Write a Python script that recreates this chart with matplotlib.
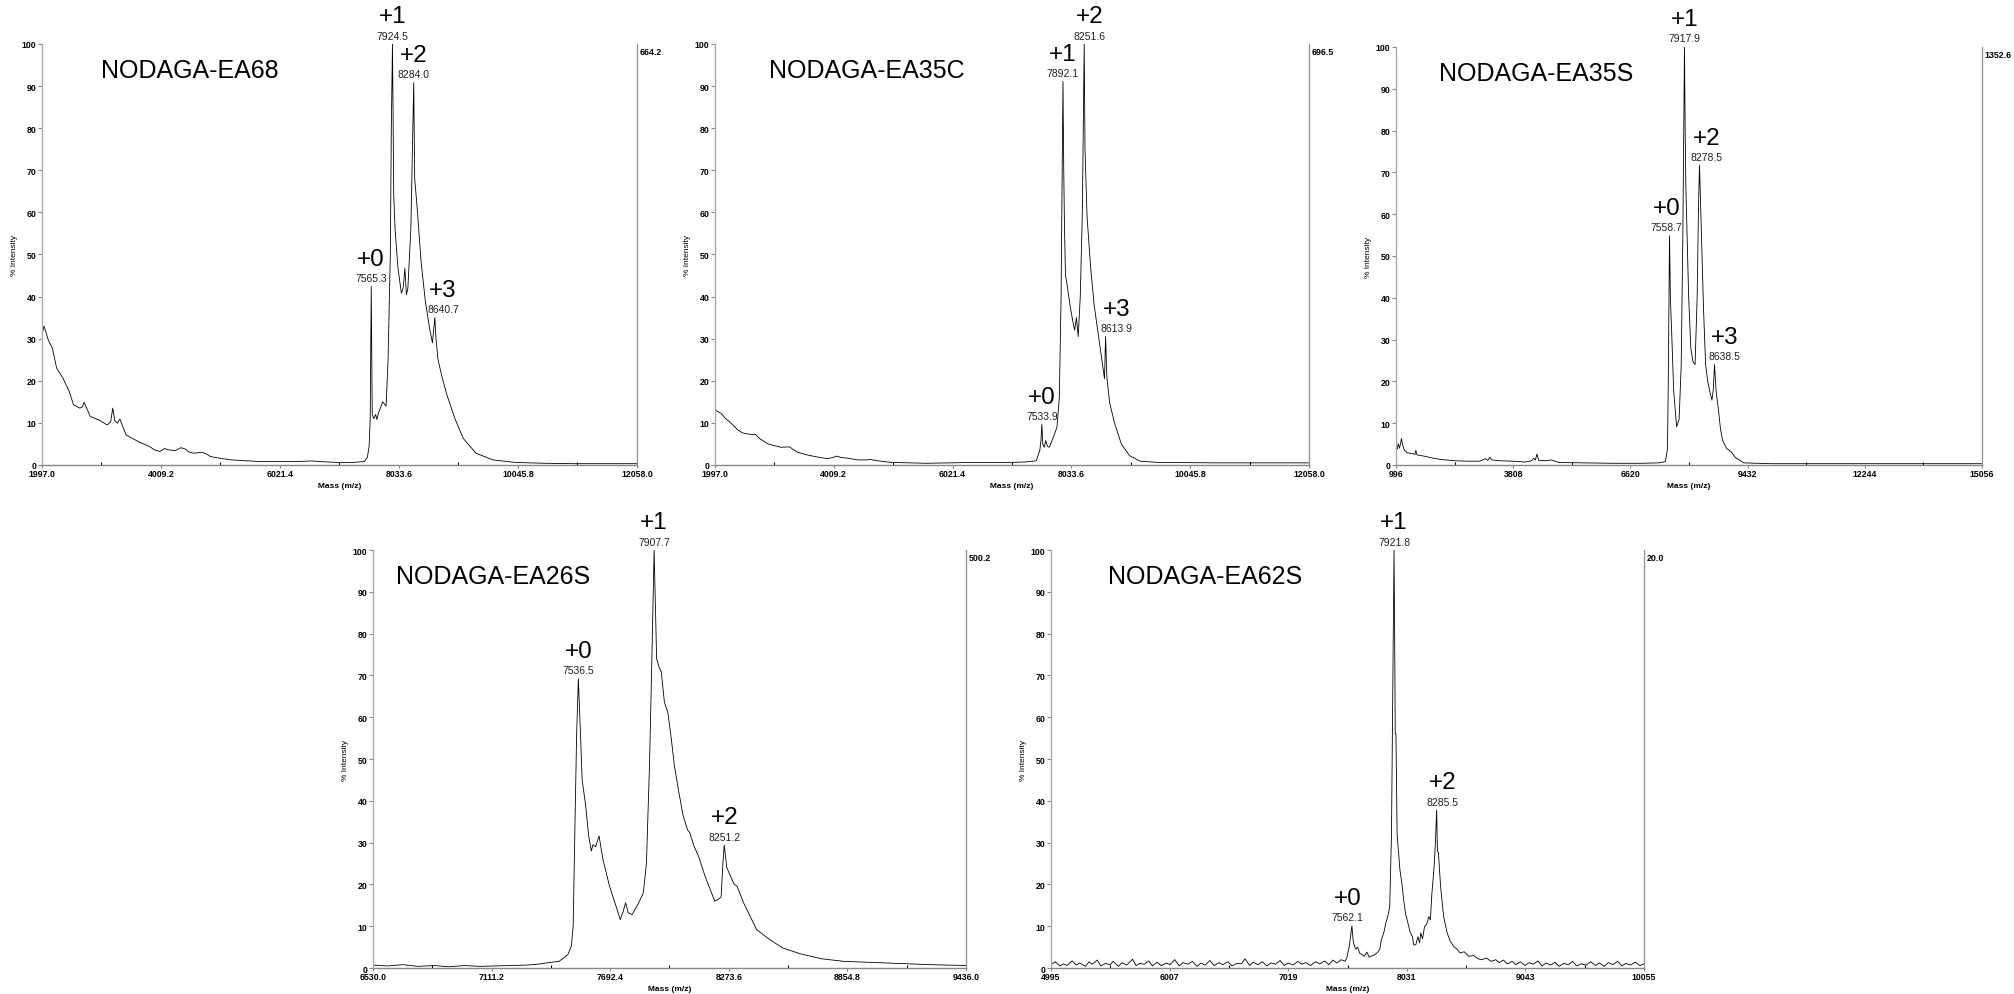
import matplotlib
matplotlib.use("Agg")
import matplotlib.pyplot as plt
import numpy as np

plt.rcParams['font.family'] = ['Liberation Sans', 'DejaVu Sans']

# ---- spectra, (mass, % intensity) ----
ea68 = [(1997, 31), (2033, 33), (2104, 29.7), (2175, 27.7), (2246, 23), (2353, 20.6),
        (2460, 17.4), (2531, 14.3), (2638, 13.5), (2680, 13.8), (2710, 14.9), (2816, 11.5),
        (2959, 10.7), (3101, 9.5), (3160, 10.2), (3194, 13.5), (3230, 10.5), (3275, 9.9),
        (3315, 10.9), (3422, 7.1), (3636, 5.5), (3814, 4.4), (3900, 3.6), (3992, 3.2),
        (4070, 3.9), (4134, 3.6), (4250, 3.4), (4348, 4.1), (4419, 3.8), (4480, 3.1),
        (4562, 2.8), (4704, 3.0), (4780, 2.6), (4847, 2.0), (5000, 1.6), (5203, 1.2),
        (5450, 1.0), (5702, 0.8), (6000, 0.8), (6272, 0.8), (6557, 0.95), (6700, 0.8),
        (6985, 0.6), (7250, 0.6), (7448, 0.8), (7500, 1.8), (7530, 4.5), (7548, 11),
        (7565.3, 42.4), (7582, 12), (7610, 11), (7640, 12), (7660, 10.8), (7690, 12.5),
        (7720, 13.5), (7760, 15), (7817, 14), (7850, 25), (7888, 50), (7905, 80),
        (7924.5, 100), (7946, 64), (7968, 56), (8018, 46.7), (8075, 40.8), (8105, 42),
        (8135, 46.7), (8160, 40.4), (8185, 42), (8235, 56), (8284.0, 90.8), (8300, 68),
        (8338, 61.8), (8410, 48), (8481, 38.8), (8552, 32.5), (8600, 29), (8640.7, 35),
        (8660, 30), (8695, 25), (8760, 21), (8837, 17), (8980, 11), (9122, 6.3),
        (9336, 2.8), (9621, 1.2), (10000, 0.6), (10500, 0.4), (11000, 0.3), (11500, 0.3),
        (12058, 0.3)]

ea35c = [(1997, 13.4), (2030, 12.8), (2105, 12.2), (2180, 11), (2249, 10.2), (2320, 9.2),
         (2394, 8.2), (2470, 7.6), (2538, 7.4), (2640, 7.2), (2682, 7.3), (2760, 6.2),
         (2898, 5.0), (3000, 4.6), (3115, 4.2), (3259, 4.3), (3330, 3.6), (3403, 3.0),
         (3550, 2.4), (3692, 2.0), (3800, 1.7), (3908, 1.5), (4000, 1.8), (4060, 2.1),
         (4124, 1.8), (4250, 1.6), (4413, 1.2), (4560, 1.2), (4629, 1.3), (4800, 0.9),
         (4990, 0.6), (5300, 0.5), (5567, 0.4), (6000, 0.5), (6288, 0.6), (6700, 0.6),
         (7009, 0.6), (7250, 0.7), (7440, 1.0), (7500, 3.5), (7520, 6), (7533.9, 9.6),
         (7550, 5), (7575, 4.2), (7600, 5.8), (7630, 4.4), (7660, 4.2), (7700, 5.6),
         (7740, 7), (7790, 9), (7830, 16), (7860, 40), (7892.1, 91.1), (7905, 70),
         (7918, 56), (7935, 45), (7960, 43), (8010, 38), (8060, 34), (8090, 32),
         (8120, 35), (8150, 30.5), (8185, 40), (8220, 60), (8251.6, 100), (8265, 75),
         (8300, 59), (8360, 47), (8420, 38), (8480, 32), (8530, 27), (8570, 23),
         (8595, 20.5), (8613.9, 30.5), (8635, 21), (8680, 15), (8760, 10.2), (8880, 5),
         (9020, 2.2), (9200, 0.9), (9500, 0.6), (10500, 0.5), (11500, 0.5), (12058, 0.5)]

ea35s = [(996, 4.3), (1030, 3.8), (1047, 5.1), (1080, 4.0), (1128, 6.3), (1160, 4.6),
         (1200, 3.5), (1270, 2.9), (1400, 2.7), (1450, 2.5), (1473, 3.5), (1500, 2.4),
         (1677, 2.1), (1900, 1.6), (2083, 1.3), (2400, 1.0), (2700, 0.9), (3000, 0.9),
         (3150, 1.5), (3200, 1.1), (3250, 1.8), (3300, 1.2), (3500, 1.0), (3800, 0.9),
         (4100, 0.7), (4250, 1.0), (4298, 1.6), (4340, 1.2), (4379, 2.6), (4420, 1.1),
         (4600, 1.0), (4725, 1.2), (4900, 0.6), (5500, 0.5), (6200, 0.4), (6900, 0.4),
         (7300, 0.5), (7460, 0.8), (7510, 3.9), (7530, 20), (7558.7, 54.8), (7580, 40),
         (7610, 32), (7660, 17.5), (7730, 9.1), (7790, 11), (7840, 24), (7880, 56),
         (7917.9, 100), (7935, 80), (7950, 67), (8019, 40), (8070, 28), (8121, 24.7),
         (8172, 24), (8222, 40), (8255, 62), (8278.5, 71.7), (8323, 56), (8374, 37.6),
         (8425, 24), (8476, 20), (8527, 17.5), (8577, 15.5), (8610, 18), (8638.5, 24),
         (8679, 17.5), (8730, 13.5), (8781, 8.7), (8832, 5.9), (8934, 3.9), (9035, 3.2),
         (9137, 1.8), (9340, 0.5), (10000, 0.3), (12000, 0.3), (15056, 0.3)]

ea26s = [(6530, 0.7), (6600, 0.5), (6680, 0.8), (6750, 0.4), (6830, 0.6), (6900, 0.3),
         (6980, 0.6), (7050, 0.4), (7130, 0.5), (7200, 0.6), (7280, 0.7), (7336, 0.9),
         (7378, 1.2), (7442, 1.6), (7485, 3.2), (7502, 5.2), (7511, 10), (7519, 32),
         (7528, 56), (7536.5, 69.2), (7546, 57), (7555, 45), (7572, 39), (7587, 31.6),
         (7600, 28), (7608, 29.5), (7621, 29), (7638, 31.6), (7657, 26), (7689, 19.6),
         (7721, 14.8), (7742, 11.6), (7756, 13.5), (7768, 15.6), (7781, 13.2), (7800, 12.8),
         (7828, 15.2), (7855, 18), (7870, 25), (7885, 48.4), (7896, 72.4), (7907.7, 100),
         (7920, 74), (7932, 72), (7943, 70.8), (7958, 63.6), (7975, 61.2), (7992, 54.8),
         (8007, 48.4), (8029, 42), (8050, 36.4), (8072, 33), (8082, 32.4), (8103, 29.2),
         (8125, 26.8), (8157, 22), (8189, 18), (8205, 16), (8221, 16.4), (8236, 17),
         (8244, 24.4), (8251.2, 29.4), (8264, 24), (8282, 22), (8300, 20), (8314, 19.6),
         (8346, 15.6), (8378, 12.4), (8410, 9.2), (8474, 6.8), (8538, 4.8), (8624, 3.4),
         (8730, 2.2), (8837, 1.6), (9050, 1.2), (9263, 0.8), (9436, 0.6)]

ea62s = [(4995, 0.8), (5030, 1.5), (5070, 0.5), (5100, 1.0), (5130, 0.6), (5175, 1.7),
         (5210, 0.7), (5240, 1.2), (5290, 0.4), (5320, 1.5), (5345, 0.9), (5390, 1.9),
         (5420, 0.5), (5460, 1.1), (5500, 0.8), (5525, 1.6), (5570, 0.4), (5600, 1.3),
         (5640, 0.7), (5690, 2.1), (5720, 0.6), (5755, 1.1), (5790, 0.9), (5830, 1.7),
         (5860, 0.5), (5900, 1.4), (5935, 0.6), (5980, 1.2), (6010, 0.8), (6050, 2.0),
         (6090, 0.5), (6120, 1.3), (6165, 0.9), (6200, 1.6), (6240, 0.4), (6275, 1.2),
         (6310, 0.7), (6350, 1.8), (6385, 0.6), (6430, 1.3), (6460, 0.8), (6505, 1.5),
         (6540, 0.5), (6580, 1.1), (6620, 1.0), (6650, 2.2), (6690, 0.6), (6720, 1.4),
         (6760, 0.8), (6800, 1.5), (6835, 0.5), (6870, 1.2), (6910, 0.9), (6950, 1.8),
         (6985, 0.6), (7020, 1.2), (7060, 0.7), (7100, 1.6), (7135, 0.9), (7170, 1.3),
         (7210, 0.6), (7250, 1.5), (7290, 1.0), (7330, 1.7), (7365, 0.8), (7400, 1.9),
         (7435, 1.2), (7470, 2.0), (7505, 1.6), (7520, 2.6), (7540, 5.2), (7562.1, 10.1),
         (7575, 6), (7595, 4.5), (7611, 5), (7630, 3.5), (7650, 3.2), (7666, 2.8),
         (7690, 3.8), (7710, 2.6), (7722, 2.8), (7745, 3.0), (7777, 3.6), (7800, 4.5),
         (7814, 6.8), (7835, 8.5), (7851, 10.7), (7870, 12.5), (7885, 14.7), (7900, 32),
         (7921.8, 100), (7928, 76), (7932, 56), (7938, 56), (7948, 32), (7972, 23.5),
         (7990, 20), (8004, 16.3), (8020, 13), (8041, 10.7), (8060, 8.5), (8078, 7.6),
         (8090, 5.5), (8108, 5.6), (8125, 7.5), (8140, 6), (8150, 8.4), (8165, 7),
         (8182, 9.9), (8200, 10.5), (8219, 12.3), (8232, 11.5), (8245, 17.9), (8264, 24.3),
         (8275, 30), (8285.5, 37.8), (8292, 28), (8301, 27.5), (8319, 19.5), (8345, 12.3),
         (8375, 8.4), (8400, 6.5), (8430, 5.2), (8460, 4.5), (8486, 3.6), (8520, 3.9),
         (8560, 2.8), (8600, 3.0), (8640, 2.2), (8670, 2.0), (8710, 2.4), (8750, 1.6),
         (8790, 2.0), (8820, 1.3), (8855, 1.9), (8890, 1.0), (8930, 1.6), (8960, 0.8),
         (9000, 1.5), (9040, 0.6), (9075, 1.3), (9110, 0.9), (9150, 1.7), (9185, 0.5),
         (9220, 1.2), (9260, 0.7), (9295, 1.4), (9330, 0.4), (9370, 1.1), (9410, 0.8),
         (9445, 1.6), (9480, 0.5), (9520, 1.0), (9560, 0.7), (9600, 1.5), (9640, 0.6),
         (9675, 1.2), (9715, 0.4), (9750, 1.3), (9790, 0.8), (9830, 1.6), (9865, 0.5),
         (9900, 1.1), (9940, 0.7), (9980, 1.4), (10020, 0.6), (10055, 1.0)]

# ---- labelled peaks ----
ea68_peak_mass = [7565.3, 7924.5, 8284.0, 8640.7]
ea68_peak_int = [42.4, 100, 90.8, 35]
ea35c_peak_mass = [7533.9, 7892.1, 8251.6, 8613.9]
ea35c_peak_int = [9.6, 91.1, 100, 30.5]
ea35s_peak_mass = [7558.7, 7917.9, 8278.5, 8638.5]
ea35s_peak_int = [54.8, 100, 71.7, 24]
ea26s_peak_mass = [7536.5, 7907.7, 8251.2]
ea26s_peak_int = [69.2, 100, 29.4]
ea62s_peak_mass = [7562.1, 7921.8, 8285.5]
ea62s_peak_int = [10.1, 100, 37.8]
tags4 = ['+0', '+1', '+2', '+3']
tags3 = ['+0', '+1', '+2']

# ---- axis ticks and full-scale counts ----
ticks_a = ['1997.0', '4009.2', '6021.4', '8033.6', '10045.8', '12058.0']
ticks_s = ['996', '3808', '6620', '9432', '12244', '15056']
ticks_26 = ['6530.0', '7111.2', '7692.4', '8273.6', '8854.8', '9436.0']
ticks_62 = ['4995', '6007', '7019', '8031', '9043', '10055']
full_scale = ['664.2', '696.5', '1352.6', '500.2', '20.0']
names = ['NODAGA-EA68', 'NODAGA-EA35C', 'NODAGA-EA35S', 'NODAGA-EA26S', 'NODAGA-EA62S']


def draw_spectrum(ax, spec, ticks, pk_m, pk_i, tags, name, name_x, scale, dx):
    spec = np.array(spec)
    tk = [float(t) for t in ticks]
    ax.plot(spec[:, 0], spec[:, 1], color='black', lw=0.6)
    ax.set_xlim(tk[0], tk[-1])
    ax.set_ylim(0, 100)

    ax.set_xticks(tk)
    ax.set_xticklabels(ticks)
    ax.set_xticks([(a + b) / 2 for a, b in zip(tk[:-1], tk[1:])], minor=True)
    ax.set_yticks(range(0, 101, 10))
    ax.set_yticklabels([str(v) for v in range(0, 101, 10)])
    ax.tick_params(axis='both', labelsize=6.3, pad=1, colors='#888888', labelcolor='black')
    ax.tick_params(axis='y', length=3, width=0.8)
    ax.tick_params(axis='x', which='major', length=2, width=0.8)
    ax.tick_params(axis='x', which='minor', length=2, width=0.8, direction='in')
    for lab in ax.get_xticklabels() + ax.get_yticklabels():
        lab.set_fontweight('bold')

    ax.spines['top'].set_visible(False)
    ax.spines['left'].set_color('#aaaaaa')
    ax.spines['right'].set_color('#999999')
    ax.spines['bottom'].set_color('#888888')
    for s in ['left', 'right', 'bottom']:
        ax.spines[s].set_linewidth(1.0)

    ax.set_xlabel('Mass (m/z)', fontsize=6, fontweight='bold', labelpad=3)
    ax.set_ylabel('% Intensity', fontsize=6, labelpad=3)

    ax.text(name_x, 0.937, name, transform=ax.transAxes, ha='center', va='center', fontsize=18)
    ax.annotate(scale, xy=(1, 1), xycoords='axes fraction', xytext=(2, -2),
                textcoords='offset points', ha='left', va='top', fontsize=6.4, fontweight='bold')

    for m, i, t, d in zip(pk_m, pk_i, tags, dx):
        ax.annotate('%.1f' % m, xy=(m, i), xytext=(d, 2.5), textcoords='offset points',
                    ha='center', va='bottom', fontsize=7.5, color='#222222',
                    annotation_clip=False)
        ax.annotate(t, xy=(m, i), xytext=(d, 12), textcoords='offset points',
                    ha='center', va='bottom', fontsize=17.5, annotation_clip=False)


fig = plt.figure(figsize=(20.15, 9.95), dpi=100)

ax1 = fig.add_axes([0.0208, 0.5317, 0.2953, 0.4231])
ax2 = fig.add_axes([0.3548, 0.5317, 0.2948, 0.4231])
ax3 = fig.add_axes([0.6928, 0.5317, 0.2908, 0.4201])
ax4 = fig.add_axes([0.1851, 0.0261, 0.2943, 0.4201])
ax5 = fig.add_axes([0.5216, 0.0261, 0.2943, 0.4201])

draw_spectrum(ax1, ea68, ticks_a, ea68_peak_mass, ea68_peak_int, tags4,
              names[0], 0.249, full_scale[0], [0, 0, 0, 6])
draw_spectrum(ax2, ea35c, ticks_a, ea35c_peak_mass, ea35c_peak_int, tags4,
              names[1], 0.256, full_scale[1], [0, 0, 4, 8])
draw_spectrum(ax3, ea35s, ticks_s, ea35s_peak_mass, ea35s_peak_int, tags4,
              names[2], 0.239, full_scale[2], [-2, 0, 5, 7])
draw_spectrum(ax4, ea26s, ticks_26, ea26s_peak_mass, ea26s_peak_int, tags3,
              names[3], 0.203, full_scale[3], [0, 0, 0])
draw_spectrum(ax5, ea62s, ticks_62, ea62s_peak_mass, ea62s_peak_int, tags3,
              names[4], 0.26, full_scale[4], [-3, 0, 4])

fig.savefig('out.png', dpi=100)
